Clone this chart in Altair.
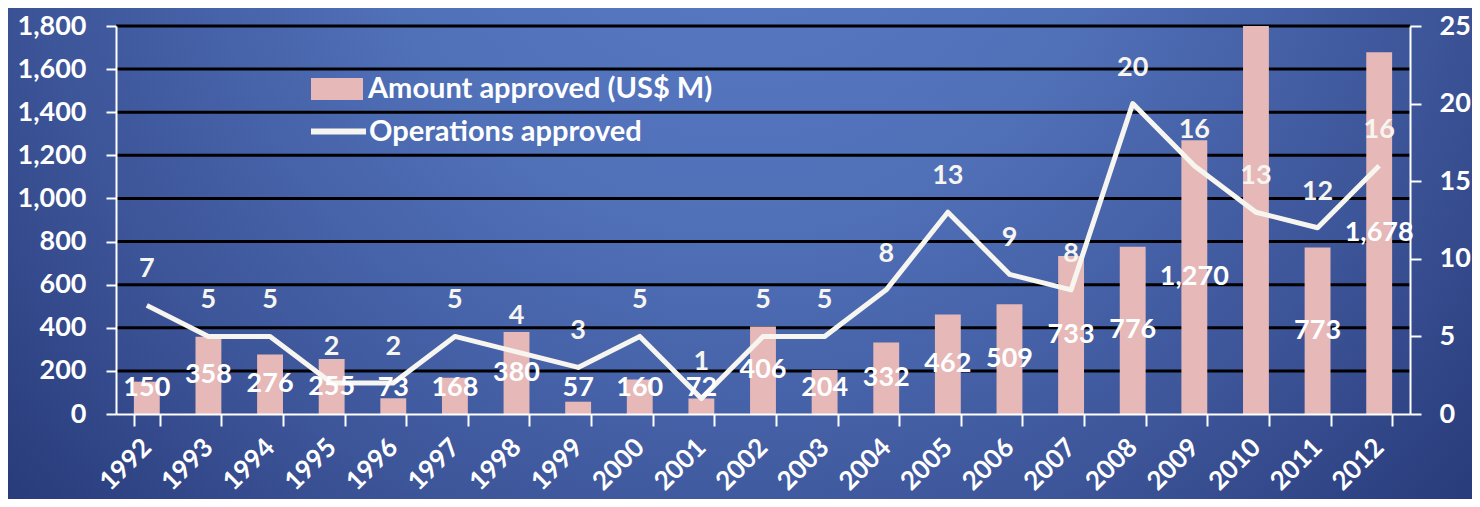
import altair as alt
import pandas as pd

years = [str(y) for y in range(1992, 2013)]
amount = [150, 358, 276, 255, 73, 168, 380, 57, 160, 72, 406, 204, 332, 462, 509,
          733, 776, 1270, 2000, 773, 1678]
operations = [7, 5, 5, 2, 2, 5, 4, 3, 5, 1, 5, 5, 8, 13, 9, 8, 20, 16, 13, 12, 16]
amount_ticks = [0, 200, 400, 600, 800, 1000, 1200, 1400, 1600, 1800]
ops_ticks = [0, 5, 10, 15, 20, 25]
grid_levels = amount_ticks[1:]
bar_series = "Amount approved (US$ M)"
line_series = "Operations approved"

W, H = 1294, 388
PL, PT, PR, PB = 108, 18, 62, 85
FONT = "Lato"
FW = "bold"
FS = 27
LFS = 29
PINK = "#e6b8b7"
CREAM = "#f7f5ef"

df = pd.DataFrame({"year": years, "amount": amount, "ops": operations})
df["amt_series"] = bar_series
df["ops_series"] = line_series

amt_scale = alt.Scale(domain=[0, 1800], nice=False, zero=True)
ops_scale = alt.Scale(domain=[0, 25], nice=False, zero=True)
x_scale = alt.Scale(paddingInner=0.58, paddingOuter=0.29)

x_axis = alt.Axis(labelAngle=-45, labelAlign="right", labelBaseline="middle",
                  tickBand="extent", domainColor="white", domainWidth=2,
                  tickColor="white", tickWidth=2, tickSize=12, labelPadding=17,
                  labelColor="white", labelFont=FONT, labelFontWeight=FW,
                  labelFontSize=26, labelOverlap=False, title=None, zindex=2)
x_enc = alt.X("year:N", sort=years, scale=x_scale, axis=x_axis)

gradient = {
    "gradient": "radial",
    "x1": 0.5, "y1": 0.02, "r1": 0,
    "x2": 0.5, "y2": 0.02, "r2": 0.74,
    "stops": [
        {"offset": 0.0, "color": "#5a7bc6"},
        {"offset": 0.35, "color": "#5070b8"},
        {"offset": 0.66, "color": "#3d5599"},
        {"offset": 1.0, "color": "#20316e"},
    ],
}

bg = alt.Chart(alt.Data(values=[{"k": 1}])).mark_rect(fill=gradient, strokeWidth=0).encode(
    x=alt.value(-PL), x2=alt.value(W + PR),
    y=alt.value(-PT), y2=alt.value(-PT + int((W + PL + PR) / 1.35)),
)

grid = alt.Chart(pd.DataFrame({"g": grid_levels})).mark_rule(
    color="black", strokeWidth=3).encode(
    y=alt.Y("g:Q", scale=amt_scale, axis=None),
    x=alt.value(0), x2=alt.value(W),
)

base = alt.Chart(df)

bars = base.mark_bar(clip=True).encode(
    x=x_enc,
    y=alt.Y("amount:Q", scale=amt_scale,
            axis=alt.Axis(values=amount_ticks, format=",.0f", grid=False,
                          domainColor="white", domainWidth=2, tickColor="white",
                          tickWidth=2, tickSize=10, labelPadding=20,
                          labelColor="white", labelFont=FONT,
                          labelFontWeight=FW, labelFontSize=FS,
                          labelOverlap=False, title=None, orient="left", zindex=2)),
    fill=alt.Fill("amt_series:N", scale=alt.Scale(domain=[bar_series], range=[PINK]),
                  legend=alt.Legend(orient="none", legendX=195, legendY=37,
                                    title=None, symbolType="M-1,-0.42H1V0.42H-1Z",
                                    symbolSize=2704, symbolStrokeWidth=0,
                                    labelColor="white", labelFont=FONT,
                                    labelFontWeight=FW, labelFontSize=LFS,
                                    labelLimit=600, labelOffset=5, padding=0, zindex=3)),
)

line = base.mark_line(strokeWidth=5, strokeJoin="round").encode(
    x=x_enc,
    y=alt.Y("ops:Q", scale=ops_scale,
            axis=alt.Axis(values=ops_ticks, grid=False, orient="right",
                          domainColor="white", domainWidth=2, tickColor="white",
                          tickWidth=2, tickSize=11, labelPadding=18,
                          labelColor="white", labelFont=FONT,
                          labelFontWeight=FW, labelFontSize=FS,
                          labelOverlap=False, title=None, zindex=2)),
    stroke=alt.Stroke("ops_series:N", scale=alt.Scale(domain=[line_series], range=[CREAM]),
                      legend=alt.Legend(orient="none", legendX=192, legendY=75,
                                        title=None, symbolType="stroke",
                                        symbolSize=3025, symbolStrokeWidth=6,
                                        labelColor="white", labelFont=FONT,
                                        labelFontWeight=FW, labelFontSize=LFS,
                                        labelLimit=600, labelOffset=0, padding=0, zindex=3)),
)

bar_labels = base.transform_filter("datum.amount <= 1800").transform_calculate(
    pos="max(datum.amount / 2, 120)").mark_text(
    font=FONT, fontSize=FS, fontWeight=FW, color="white", baseline="middle").encode(
    x=x_enc,
    y=alt.Y("pos:Q", scale=amt_scale, axis=None),
    text=alt.Text("amount:Q", format=","),
)

line_labels = base.mark_text(
    font=FONT, fontSize=FS, fontWeight=FW, color=CREAM, baseline="middle", dy=-36).encode(
    x=x_enc,
    y=alt.Y("ops:Q", scale=ops_scale, axis=None),
    text=alt.Text("ops:Q"),
)

chart = alt.layer(bg, grid, bars, line, bar_labels, line_labels).resolve_scale(
    y="independent"
).properties(
    width=W, height=H,
    padding={"left": PL, "top": PT, "right": PR, "bottom": PB},
    autosize=alt.AutoSizeParams(type="none"),
).configure_view(stroke=None).configure(background="#2c4180")

chart.save("out.html", embed_options={"renderer": "svg", "actions": False})
